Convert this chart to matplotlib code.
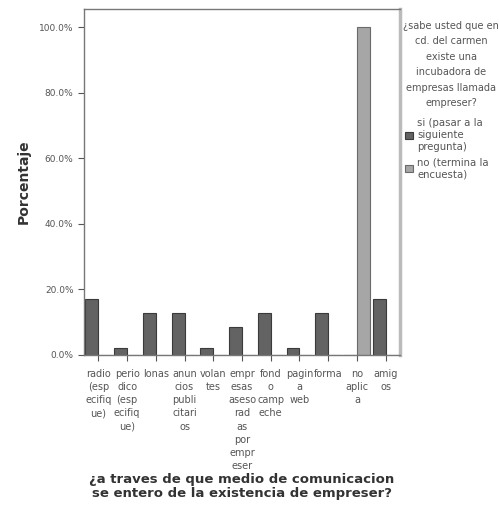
import matplotlib.pyplot as plt
import numpy as np

# categories of "¿a traves de que medio...?" (labels wrapped like SPSS does)
CATEGORIES = ["radio\n(esp\necifiq\nue)", "perio\ndico\n(esp\necifiq\nue)", "lonas",
              "anun\ncios\npubli\ncitari\nos", "volan\ntes",
              "empr\nesas\naseso\nrad\nas\npor\nempr\neser",
              "fond\no\ncamp\neche", "pagin\na\nweb", "forma", "no\naplic\na", "amig\nos"]
SI_PCT = [17.0, 2.1, 12.8, 12.8, 2.1, 8.5, 12.8, 2.1, 12.8, 0.0, 17.0]
NO_PCT = [0, 0, 0, 0, 0, 0, 0, 0, 0, 100.0, 0]
SERIES = ["si (pasar a la\nsiguiente\npregunta)", "no (termina la\nencuesta)"]
LEGEND_TITLE = "¿sabe usted que en\ncd. del carmen\nexiste una\nincubadora de\nempresas llamada\nempreser?"
YTICKS = [0, 20, 40, 60, 80, 100]

TXT = "#555555"

fig = plt.figure(figsize=(4.99, 5.09), dpi=100)
ax = fig.add_axes([84/499, 1-355/509, (400-84)/499, (355-9)/509])

x = np.arange(len(CATEGORIES))
w = 0.45
ax.bar(x - w/2, SI_PCT, w, color="#636363", edgecolor="#3a3a3a", linewidth=0.8, label=SERIES[0])
ax.bar(x + w/2, NO_PCT, w, color="#a6a6a6", edgecolor="#6a6a6a", linewidth=0.8, label=SERIES[1])

ax.set_xlim(-0.5, len(CATEGORIES) - 0.5)
ax.set_ylim(0, 105.5)
ax.set_yticks(YTICKS)
ax.set_yticklabels([f"{v:.1f}%" for v in YTICKS], fontsize=6.5, color=TXT)
ax.set_xticks(x)
ax.set_xticklabels(CATEGORIES, fontsize=7, color=TXT, linespacing=1.4, va="top")
ax.tick_params(axis="both", length=4, color="#555555", width=0.8)
ax.tick_params(axis="x", pad=6)

for side in ["left", "bottom", "top"]:
    ax.spines[side].set_color("#777777")
    ax.spines[side].set_linewidth(1.0)
ax.spines["right"].set_color("#bbbbbb")
ax.spines["right"].set_linewidth(2.5)

ax.set_ylabel("Porcentaje", fontsize=10, fontweight="bold", color="#333333")
ax.yaxis.set_label_coords(-0.168, 0.5)
fig.text(242/499, 1-487/509,
         "¿a traves de que medio de comunicacion\nse entero de la existencia de empreser?",
         fontsize=9.5, fontweight="bold", color="#333333", ha="center", va="center",
         linespacing=1.1)

# legend title as its own centred text, then the two entries below it
fig.text(451/499, 1-21/509, LEGEND_TITLE, fontsize=7.0, color=TXT,
         ha="center", va="top", multialignment="center", linespacing=1.68)
leg = ax.legend(loc="upper left", bbox_to_anchor=(405/499, 1-118/509),
                bbox_transform=fig.transFigure, frameon=False, fontsize=7.3,
                handlelength=0.8, handleheight=0.8, handletextpad=0.4,
                borderaxespad=0, borderpad=0, labelspacing=0.5)
for t in leg.get_texts():
    t.set_color(TXT)
    t.set_linespacing(1.25)

fig.savefig("out.png", dpi=100)
